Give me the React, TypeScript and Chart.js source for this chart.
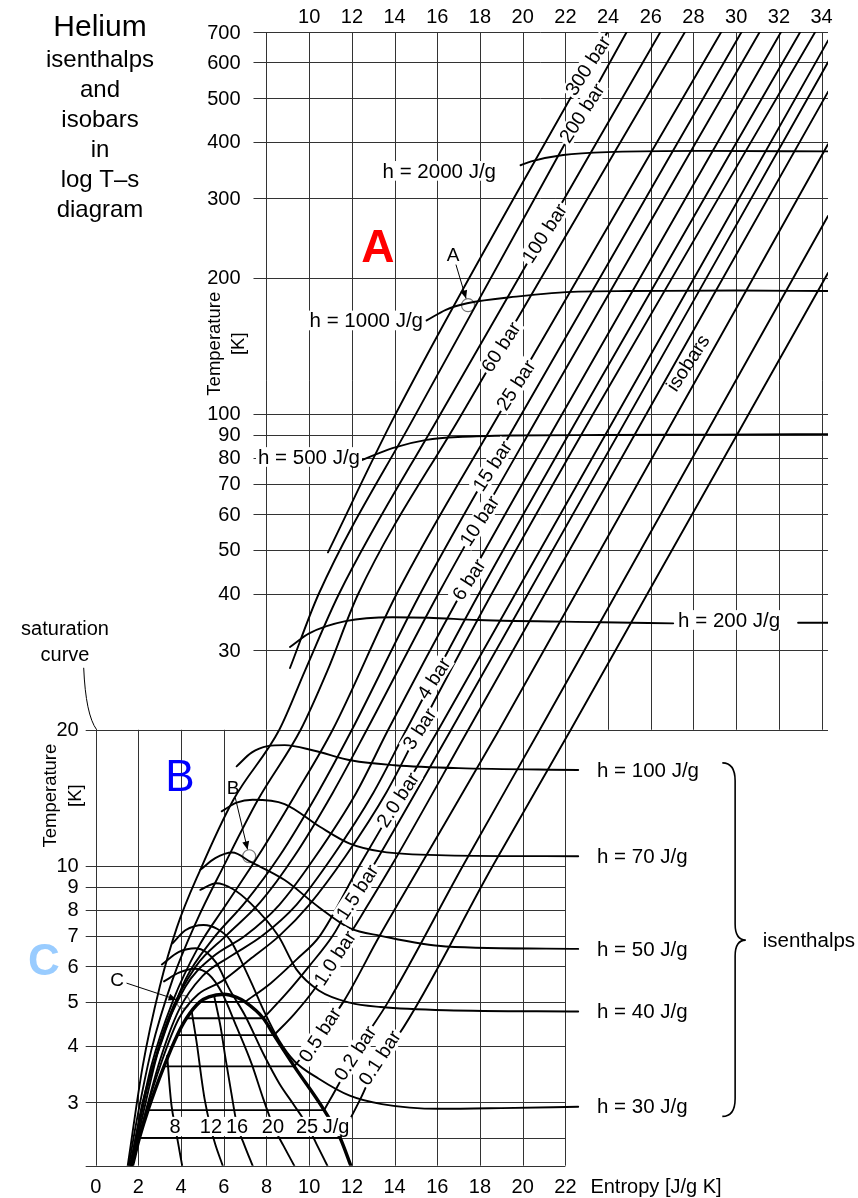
import React, { useEffect, useRef } from 'react';
import { Chart, registerables } from 'chart.js';

Chart.register(...registerables);

type P = [number, number];
const FONT = '"Liberation Sans", Arial, Helvetica, sans-serif';

// ---- axes ----
const S_MIN = 0;
const S_MAX = 34.3;
const T_MIN = 2.17;
const T_MAX = 700;

const upperTempLines = [20, 30, 40, 50, 60, 70, 80, 90, 100, 200, 300, 400, 500, 600, 700];
const upperTempLabels = [30, 40, 50, 60, 70, 80, 90, 100, 200, 300, 400, 500, 600, 700];
const lowerTempLines = [2.17, 3, 4, 5, 6, 7, 8, 9, 10];
const lowerTempLabels = [3, 4, 5, 6, 7, 8, 9, 10, 20];
const upperEntropyLines = [8, 10, 12, 14, 16, 18, 20, 22, 24, 26, 28, 30, 32, 34];
const topEntropyLabels = [10, 12, 14, 16, 18, 20, 22, 24, 26, 28, 30, 32, 34];
const lowerEntropyLines = [0, 2, 4, 6, 8, 10, 12, 14, 16, 18, 20, 22];

// ---- isobars [s J/gK, T K] ----
const isobar300: P[] = [[10.88, 49.4], [14.05, 100], [23.97, 700]];
const isobar200: P[] = [[9.1, 27.4], [10.45, 40], [15.0, 100], [24.87, 700]];
const isobar100: P[] = [[1.5, 2.17], [2.2, 3.6], [3.0, 5.4], [3.8, 7.3], [4.9, 9.8], [6.45, 14], [8.6, 20], [9.8, 27], [11.4, 40], [16.15, 100], [26.45, 700]];
const isobar60: P[] = [[1.55, 2.17], [1.9, 2.7], [2.6, 3.9], [3.6, 5.6], [4.7, 7.5], [6.0, 10], [7.6, 14], [9.6, 20], [10.85, 27], [12.3, 40], [17.15, 100], [27.6, 700]];
const isobar25: P[] = [[1.6, 2.17], [1.95, 2.6], [2.6, 3.6], [3.6, 5.0], [4.8, 6.6], [6.1, 8.2], [7.6, 10.5], [9.4, 14.5], [11.1, 20], [14.1, 40], [18.9, 100], [29.3, 700]];
const isobar15: P[] = [[1.63, 2.17], [2.2, 3.0], [3.1, 4.1], [4.2, 5.6], [5.5, 6.9], [7.0, 8.3], [8.6, 10.5], [10.4, 14.5], [12.0, 20], [15.2, 40], [19.95, 100], [30.25, 700]];
const isobar10: P[] = [[1.66, 2.17], [2.4, 3.2], [3.4, 4.6], [4.7, 6.0], [6.1, 7.0], [7.7, 8.3], [9.3, 10.5], [11.1, 14.5], [12.7, 20], [16.05, 40], [20.8, 100], [31.1, 700]];
const isobar6: P[] = [[1.68, 2.17], [2.2, 2.8], [3.0, 4.0], [4.2, 5.4], [5.5, 6.3], [7.0, 7.0], [8.6, 8.2], [10.3, 10.5], [12.2, 14.5], [13.7, 20], [17.1, 40], [21.85, 100], [32.1, 700]];
const isobar4: P[] = [[1.7, 2.17], [2.25, 2.75], [3.0, 3.7], [3.9, 4.8], [5.0, 5.7], [6.3, 6.3], [7.8, 7.0], [9.4, 8.2], [11.1, 10.5], [13.0, 14.5], [14.55, 20], [17.95, 40], [22.7, 100], [33.0, 700]];
const isobar3: P[] = [[1.71, 2.17], [2.3, 2.8], [3.1, 3.7], [3.9, 4.6], [4.8, 5.2], [5.9, 5.55], [7.2, 6.2], [8.6, 7.0], [10.0, 8.2], [11.7, 10.5], [13.6, 14.5], [15.15, 20], [18.55, 40], [23.3, 100], [33.7, 700]];
const isobar2: P[] = [[7.0, 5.0], [8.2, 5.5], [9.4, 6.2], [10.5, 7.0], [12.35, 10], [14.15, 14], [16.05, 20], [34.3, 670]];
const isobar1_5: P[] = [[7.85, 4.6], [8.9, 5.2], [10.0, 6.0], [11.1, 7.0], [12.25, 8.75], [13.0, 10], [16.65, 20], [34.3, 600]];
const isobar1: P[] = [[8.35, 4.22], [9.3, 4.7], [10.2, 5.3], [11.2, 6.25], [12.4, 7.7], [13.85, 10], [17.45, 20], [34.3, 516]];
const isobar0_5: P[] = [[9.3, 3.6], [9.8, 3.85], [10.5, 4.23], [11.6, 5.0], [13.3, 7.0], [15.2, 10], [18.9, 20], [34.3, 395]];
const isobar0_2: P[] = [[10.7, 2.88], [11.4, 3.3], [12.15, 3.85], [13.7, 5.0], [17.2, 10], [20.8, 20], [34.3, 274]];
const isobar0_1: P[] = [[11.45, 2.5], [12.4, 3.05], [13.3, 3.76], [14.15, 4.2], [18.6, 10], [22.25, 20], [34.3, 205]];

// two-phase (horizontal) parts of the isobars
const dome0_1: P[] = [[2.05, 2.5], [11.45, 2.5]];
const dome0_2: P[] = [[2.45, 2.88], [10.7, 2.88]];
const dome0_5: P[] = [[3.2, 3.6], [9.3, 3.6]];
const dome1: P[] = [[3.82, 4.22], [8.35, 4.22]];
const dome1_5: P[] = [[4.25, 4.6], [7.85, 4.6]];
const dome2: P[] = [[4.88, 5.0], [7.0, 5.0]];

// saturation curve
const saturation: P[] = [[1.72, 2.17], [2.05, 2.5], [2.45, 2.88], [3.2, 3.6], [3.82, 4.22], [4.25, 4.6], [4.88, 5.0], [5.3, 5.13], [6.0, 5.2], [6.6, 5.12], [7.0, 5.0], [7.85, 4.6], [8.35, 4.22], [9.3, 3.6], [10.7, 2.88], [11.45, 2.5], [11.95, 2.17]];

// ---- isenthalps ----
const h8: P[] = [[3.35, 3.8], [3.45, 3.3], [3.55, 2.95], [3.72, 2.65], [3.85, 2.45], [4.05, 2.17]];
const h12: P[] = [[4.5, 4.75], [4.75, 4.0], [4.95, 3.4], [5.1, 3.05], [5.37, 2.65], [5.6, 2.42], [5.95, 2.17]];
const h16: P[] = [[5.55, 5.15], [5.85, 4.4], [6.1, 3.7], [6.35, 3.15], [6.62, 2.67], [6.95, 2.42], [7.35, 2.17]];
const h20: P[] = [[3.2, 5.55], [3.9, 5.8], [4.6, 5.92], [5.3, 5.75], [5.9, 5.25], [6.6, 4.4], [7.3, 3.65], [7.85, 3.05], [8.3, 2.67], [8.8, 2.4], [9.3, 2.17]];
const h25: P[] = [[3.1, 6.05], [3.9, 6.45], [4.7, 6.57], [5.65, 6.1], [6.25, 5.35], [7.0, 4.66], [7.9, 3.8], [8.6, 3.3], [9.3, 2.95], [9.9, 2.67], [10.35, 2.42], [10.85, 2.17]];
const h30: P[] = [[3.6, 6.74], [4.2, 7.2], [5.05, 7.4], [5.7, 7.25], [6.3, 6.85], [6.75, 6.25], [7.3, 5.5], [7.9, 4.75], [8.6, 4.1], [9.3, 3.7], [10.45, 3.38], [11.9, 3.1], [13.4, 2.97], [16.1, 2.9], [19.0, 2.91], [22.6, 2.93]];
const h40: P[] = [[4.9, 8.85], [5.65, 9.15], [6.4, 8.9], [7.26, 8.26], [8.55, 7.0], [9.4, 5.9], [10.45, 5.3], [11.9, 4.98], [13.35, 4.87], [16.4, 4.79], [22.6, 4.76]];
const h50: P[] = [[4.9, 9.8], [5.6, 10.4], [6.4, 10.7], [7.26, 10.2], [8.85, 9.3], [10.45, 8.1], [11.9, 7.28], [13.35, 7.0], [16.4, 6.63], [22.6, 6.55]];
const h70: P[] = [[5.9, 13.2], [6.6, 13.8], [7.35, 14.0], [8.85, 13.7], [10.5, 12.2], [11.9, 11.2], [13.4, 10.75], [16.4, 10.55], [22.6, 10.5]];
const h100: P[] = [[6.6, 16.6], [7.3, 17.8], [8.05, 18.4], [8.85, 18.5], [10.2, 18.0], [12.0, 17.1], [14.0, 16.7], [17.0, 16.45], [22.6, 16.3]];
const h200a: P[] = [[9.1, 30.5], [10.0, 32.7], [11.7, 34.8], [13.9, 35.5], [15.6, 35.4], [17.9, 35.0], [23.7, 34.6], [27.05, 34.4]];
const h200b: P[] = [[32.9, 34.5], [34.3, 34.5]];
const h500: P[] = [[12.3, 78.4], [13.9, 84], [15.5, 87.6], [17.2, 89], [19.4, 89.6], [23.7, 89.8], [29, 90], [34.3, 90.2]];
const h1000: P[] = [[15.5, 161], [16.4, 170], [17.4, 175.7], [19.7, 181.8], [22.6, 186.5], [25, 187], [30, 187.5], [34.3, 187]];
const h2000: P[] = [[19.9, 355], [20.4, 362], [21.9, 374], [24.3, 380], [28.4, 382], [34.3, 381]];

// ---- labels ----
const isobarLabels: [string, number, number][] = [
  ['300 bar', 23.05, 589], ['200 bar', 22.77, 463], ['100 bar', 21.02, 251], ['60 bar', 18.98, 140.6],
  ['25 bar', 19.68, 115.8], ['15 bar', 18.58, 76.7], ['10 bar', 17.98, 58], ['6 bar', 17.48, 43],
  ['4 bar', 15.84, 26], ['3 bar', 15.17, 20.1], ['2.0 bar', 14.15, 14], ['1.5 bar', 12.25, 8.75],
  ['1.0 bar', 11.2, 6.25], ['0.5 bar', 10.5, 4.23], ['0.2 bar', 12.15, 3.85], ['0.1 bar', 13.3, 3.76],
];
const domeLabels: [string, number, number][] = [
  ['8', 3.72, 2.65], ['12', 5.4, 2.65], ['16', 6.62, 2.65], ['20', 8.3, 2.65], ['25', 9.9, 2.65], ['J/g', 11.26, 2.65],
];
const upperHLabels: [string, number, number, 'left' | 'right'][] = [
  ['h = 2000 J/g', 18.75, 345, 'right'], ['h = 1000 J/g', 15.33, 161, 'right'],
  ['h = 500 J/g', 12.38, 80.3, 'right'], ['h = 200 J/g', 27.28, 35.0, 'left'],
];
const rightHLabels: [string, number][] = [
  ['h = 100 J/g', 16.3], ['h = 70 J/g', 10.5], ['h = 50 J/g', 6.55], ['h = 40 J/g', 4.76], ['h = 30 J/g', 2.93],
];
const stateMarkers: [string, number, number, number, number][] = [
  // name, s, T (circle), label s, label T
  ['A', 17.44, 174, 16.74, 224.7],
  ['B', 7.19, 10.5, 6.43, 14.87],
  ['C', 4.1, 5.0, 1.0, 5.59],
];

const isobarPaths = [isobar300, isobar200, isobar100, isobar60, isobar25, isobar15, isobar10, isobar6, isobar4, isobar3, isobar2, isobar1_5, isobar1, isobar0_5, isobar0_2, isobar0_1];
const domePaths = [dome0_1, dome0_2, dome0_5, dome1, dome1_5, dome2];
const isenthalpPaths = [h8, h12, h16, h20, h25, h30, h40, h50, h70, h100, h200a, h200b, h500, h1000, h2000];

function lineDs(pts: P[], width: number, smooth: boolean) {
  return {
    type: 'scatter' as const,
    data: pts.map(([x, y]) => ({ x, y })),
    showLine: true,
    borderColor: '#000',
    backgroundColor: '#000',
    borderWidth: width,
    pointRadius: 0,
    pointHoverRadius: 0,
    fill: false,
    tension: 0,
    cubicInterpolationMode: smooth ? 'monotone' : 'default',
    borderCapStyle: 'round',
    borderJoinStyle: 'round',
  };
}

function txt(ctx: CanvasRenderingContext2D, text: string, x: number, y: number, size: number, align: CanvasTextAlign = 'center', opts: { rot?: number; bg?: boolean; color?: string; weight?: string } = {}) {
  ctx.save();
  ctx.translate(x, y);
  if (opts.rot) ctx.rotate((opts.rot * Math.PI) / 180);
  ctx.font = `${opts.weight || 'normal'} ${size}px ${FONT}`;
  const w = ctx.measureText(text).width;
  if (opts.bg) {
    ctx.fillStyle = '#fff';
    const x0 = align === 'center' ? -w / 2 : align === 'right' ? -w : 0;
    ctx.fillRect(x0 - 2, -size * 0.48, w + 4, size * 0.96);
  }
  ctx.fillStyle = opts.color || '#000';
  ctx.textAlign = align;
  ctx.textBaseline = 'middle';
  ctx.fillText(text, 0, 1);
  ctx.restore();
}

function arrow(ctx: CanvasRenderingContext2D, x1: number, y1: number, x2: number, y2: number, startOff: number, endOff: number) {
  const dx = x2 - x1, dy = y2 - y1;
  const d = Math.hypot(dx, dy);
  const ux = dx / d, uy = dy / d;
  const sx = x1 + ux * startOff, sy = y1 + uy * startOff;
  const ex = x2 - ux * endOff, ey = y2 - uy * endOff;
  ctx.save();
  ctx.strokeStyle = '#000';
  ctx.fillStyle = '#000';
  ctx.lineWidth = 1;
  ctx.beginPath();
  ctx.moveTo(sx, sy);
  ctx.lineTo(ex, ey);
  ctx.stroke();
  const hl = 8, hw = 3.5;
  ctx.beginPath();
  ctx.moveTo(ex, ey);
  ctx.lineTo(ex - ux * hl - uy * hw, ey - uy * hl + ux * hw);
  ctx.lineTo(ex - ux * hl + uy * hw, ey - uy * hl - ux * hw);
  ctx.closePath();
  ctx.fill();
  ctx.restore();
}

const decor = {
  id: 'decor',
  beforeDatasetsDraw(chart: any) {
    const ctx: CanvasRenderingContext2D = chart.ctx;
    const X = (v: number) => chart.scales.x.getPixelForValue(v);
    const Y = (v: number) => chart.scales.y.getPixelForValue(v);
    ctx.save();
    ctx.strokeStyle = '#333';
    ctx.lineWidth = 1;
    const hl = (y: number, x1: number, x2: number) => {
      const yy = Math.round(y) + 0.5;
      ctx.beginPath(); ctx.moveTo(x1, yy); ctx.lineTo(x2, yy); ctx.stroke();
    };
    const vl = (x: number, y1: number, y2: number) => {
      const xx = Math.round(x) + 0.5;
      ctx.beginPath(); ctx.moveTo(xx, y1); ctx.lineTo(xx, y2); ctx.stroke();
    };
    upperTempLines.forEach((t) => hl(Y(t), t === 20 ? X(0) - 10 : X(8) - 13, X(S_MAX)));
    upperEntropyLines.forEach((s) => vl(X(s), Y(20), Y(700)));
    lowerTempLines.forEach((t) => hl(Y(t), X(0) - 10, X(22)));
    hl(Y(2.5), X(2.05), X(22));
    lowerEntropyLines.forEach((s) => vl(X(s), Y(T_MIN), Y(20)));
    ctx.restore();
  },
  afterDraw(chart: any) {
    const ctx: CanvasRenderingContext2D = chart.ctx;
    const X = (v: number) => chart.scales.x.getPixelForValue(v);
    const Y = (v: number) => chart.scales.y.getPixelForValue(v);

    // tick labels
    upperTempLabels.forEach((t) => txt(ctx, String(t), X(8) - 26, Y(t), 20, 'right'));
    lowerTempLabels.forEach((t) => txt(ctx, String(t), X(0) - 17, Y(t), 20, 'right'));
    topEntropyLabels.forEach((s) => txt(ctx, String(s), X(s), Y(T_MAX) - 16, 20));
    lowerEntropyLines.forEach((s) => txt(ctx, String(s), X(s), Y(T_MIN) + 21, 20));
    txt(ctx, 'Entropy [J/g K]', X(22) + 25, Y(T_MIN) + 21, 20, 'left');

    // axis titles
    txt(ctx, 'Temperature', X(8) - 53, Y(143), 18.5, 'center', { rot: -90 });
    txt(ctx, '[K]', X(8) - 29, Y(143), 18.5, 'center', { rot: -90 });
    txt(ctx, 'Temperature', X(0) - 46, Y(14.3), 18.5, 'center', { rot: -90 });
    txt(ctx, '[K]', X(0) - 21, Y(14.3), 18.5, 'center', { rot: -90 });

    // title
    txt(ctx, 'Helium', 100, 27, 30);
    ['isenthalps', 'and', 'isobars', 'in', 'log T\u2013s', 'diagram'].forEach((l, i) => txt(ctx, l, 100, 59 + i * 30, 24));

    // saturation curve label + pointer
    txt(ctx, 'saturation', 65, 628, 20);
    txt(ctx, 'curve', 65, 654, 20);
    ctx.save();
    ctx.strokeStyle = '#000';
    ctx.lineWidth = 1;
    ctx.beginPath();
    ctx.moveTo(X(0) - 12, Y(20) - 62);
    ctx.quadraticCurveTo(X(0) - 10, Y(20) - 15, X(0) + 1, Y(20));
    ctx.stroke();
    ctx.restore();

    // big region letters
    txt(ctx, 'A', X(13.22), Y(232.8), 46, 'center', { color: '#ff0000', weight: 'bold' });
    txt(ctx, 'B', X(3.95), Y(15.65), 44, 'center', { color: '#0000ff' });
    txt(ctx, 'C', 44, Y(6.13), 44, 'center', { color: '#99ccff', weight: 'bold' });

    // isenthalp labels
    upperHLabels.forEach(([t, s, T, al]) => txt(ctx, t, X(s), Y(T), 20.5, al, { bg: true }));
    rightHLabels.forEach(([t, T]) => txt(ctx, t, X(23.48), Y(T), 20.5, 'left'));
    domeLabels.forEach(([t, s, T]) => txt(ctx, t, X(s), Y(T), 20, 'center', { bg: true }));

    // isobar labels
    isobarLabels.forEach(([t, s, T]) => txt(ctx, t, X(s), Y(T), 19.5, 'center', { rot: -57, bg: true }));
    txt(ctx, 'isobars', X(27.74), Y(129.7), 19.5, 'center', { rot: -57 });

    // brace + "isenthalps"
    const bx0 = X(29.35), bx1 = X(29.95), bx2 = X(30.45);
    const by0 = Y(16.9), bym = Y(6.85), by1 = Y(2.79);
    ctx.save();
    ctx.strokeStyle = '#000';
    ctx.lineWidth = 1.6;
    ctx.beginPath();
    ctx.moveTo(bx0, by0);
    ctx.quadraticCurveTo(bx1, by0, bx1, by0 + 18);
    ctx.lineTo(bx1, bym - 16);
    ctx.quadraticCurveTo(bx1, bym, bx2, bym);
    ctx.quadraticCurveTo(bx1, bym, bx1, bym + 16);
    ctx.lineTo(bx1, by1 - 18);
    ctx.quadraticCurveTo(bx1, by1, bx0, by1);
    ctx.stroke();
    ctx.restore();
    txt(ctx, 'isenthalps', bx2 + 17, bym, 20.5, 'left');

    // state point labels and arrows
    stateMarkers.forEach(([n, s, T, ls, lT]) => {
      const lx = X(ls), ly = Y(lT);
      txt(ctx, n, lx, ly, 19);
      arrow(ctx, lx, ly, X(s), Y(T), 10, 7);
    });
  },
};

export default function App() {
  const ref = useRef<HTMLCanvasElement>(null);
  useEffect(() => {
    if (!ref.current) return;
    const datasets: any[] = [];
    domePaths.forEach((p) => datasets.push(lineDs(p, 1.8, false)));
    isobarPaths.forEach((p) => datasets.push(lineDs(p, 1.9, true)));
    isenthalpPaths.forEach((p) => datasets.push(lineDs(p, 1.9, true)));
    datasets.push(lineDs(saturation, 3.4, true));
    datasets.push({
      type: 'scatter',
      data: stateMarkers.map(([, s, T]) => ({ x: s, y: T })),
      showLine: false,
      pointRadius: 6.5,
      pointHoverRadius: 6.5,
      pointStyle: 'circle',
      pointBorderColor: '#777',
      pointBackgroundColor: 'rgba(0,0,0,0)',
      pointBorderWidth: 1.2,
    });
    const chart = new Chart(ref.current, {
      type: 'scatter',
      data: { datasets },
      options: {
        responsive: false,
        animation: false,
        events: [],
        layout: { padding: { left: 95.7, right: 30, top: 32, bottom: 32.3 } },
        scales: {
          x: { type: 'linear', min: S_MIN, max: S_MAX, display: false },
          y: { type: 'logarithmic', min: T_MIN, max: T_MAX, display: false },
        },
        plugins: { legend: { display: false }, tooltip: { enabled: false } },
      },
      plugins: [decor],
    } as any);
    return () => chart.destroy();
  }, []);
  return (
    <div style={{ position: 'absolute', left: 0, top: 0, width: 858, height: 1198, background: '#fff' }}>
      <canvas ref={ref} width={858} height={1198} style={{ display: 'block' }} />
    </div>
  );
}
